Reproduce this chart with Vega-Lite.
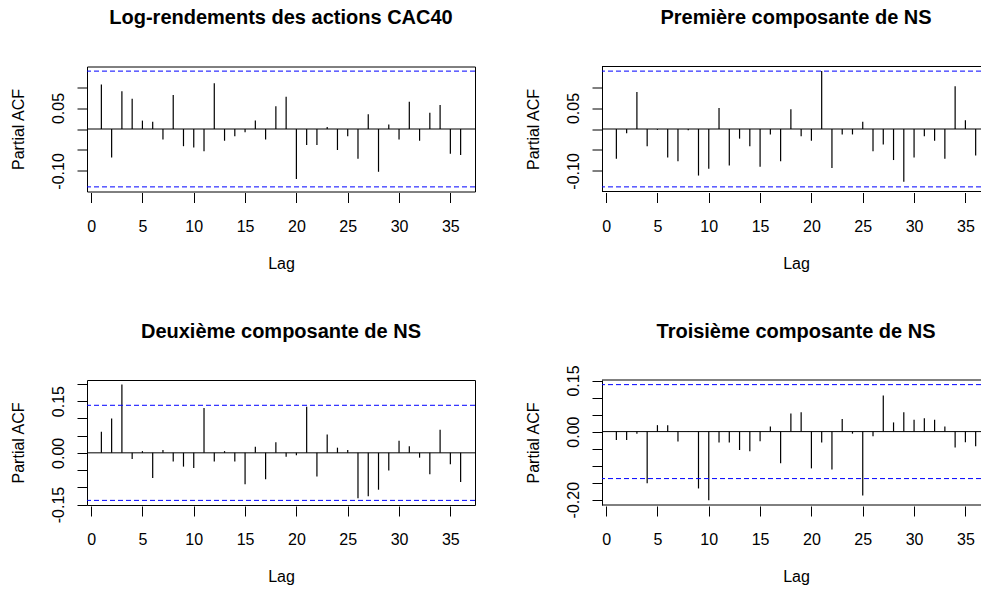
{
  "$schema": "https://vega.github.io/schema/vega-lite/v6.json",
  "padding": {"left": 9, "top": 7.5, "right": 0, "bottom": 0},
  "background": "white",
  "datasets": {
    "cac40": [
      {"lag": 1, "pacf": 0.106}, {"lag": 2, "pacf": -0.068}, {"lag": 3, "pacf": 0.090}, {"lag": 4, "pacf": 0.072},
      {"lag": 5, "pacf": 0.020}, {"lag": 6, "pacf": 0.017}, {"lag": 7, "pacf": -0.025}, {"lag": 8, "pacf": 0.081},
      {"lag": 9, "pacf": -0.041}, {"lag": 10, "pacf": -0.044}, {"lag": 11, "pacf": -0.053}, {"lag": 12, "pacf": 0.109},
      {"lag": 13, "pacf": -0.028}, {"lag": 14, "pacf": -0.017}, {"lag": 15, "pacf": -0.008}, {"lag": 16, "pacf": 0.020},
      {"lag": 17, "pacf": -0.025}, {"lag": 18, "pacf": 0.054}, {"lag": 19, "pacf": 0.077}, {"lag": 20, "pacf": -0.119},
      {"lag": 21, "pacf": -0.038}, {"lag": 22, "pacf": -0.038}, {"lag": 23, "pacf": 0.005}, {"lag": 24, "pacf": -0.050},
      {"lag": 25, "pacf": -0.017}, {"lag": 26, "pacf": -0.071}, {"lag": 27, "pacf": 0.035}, {"lag": 28, "pacf": -0.102},
      {"lag": 29, "pacf": 0.011}, {"lag": 30, "pacf": -0.025}, {"lag": 31, "pacf": 0.065}, {"lag": 32, "pacf": -0.028},
      {"lag": 33, "pacf": 0.039}, {"lag": 34, "pacf": 0.057}, {"lag": 35, "pacf": -0.059}, {"lag": 36, "pacf": -0.062}
    ],
    "ns1": [
      {"lag": 1, "pacf": -0.071}, {"lag": 2, "pacf": -0.010}, {"lag": 3, "pacf": 0.088}, {"lag": 4, "pacf": -0.041},
      {"lag": 5, "pacf": -0.002}, {"lag": 6, "pacf": -0.068}, {"lag": 7, "pacf": -0.077}, {"lag": 8, "pacf": -0.003},
      {"lag": 9, "pacf": -0.111}, {"lag": 10, "pacf": -0.095}, {"lag": 11, "pacf": 0.050}, {"lag": 12, "pacf": -0.087},
      {"lag": 13, "pacf": -0.023}, {"lag": 14, "pacf": -0.041}, {"lag": 15, "pacf": -0.090}, {"lag": 16, "pacf": -0.013},
      {"lag": 17, "pacf": -0.077}, {"lag": 18, "pacf": 0.047}, {"lag": 19, "pacf": -0.017}, {"lag": 20, "pacf": -0.028},
      {"lag": 21, "pacf": 0.138}, {"lag": 22, "pacf": -0.093}, {"lag": 23, "pacf": -0.013}, {"lag": 24, "pacf": -0.013},
      {"lag": 25, "pacf": 0.017}, {"lag": 26, "pacf": -0.053}, {"lag": 27, "pacf": -0.037}, {"lag": 28, "pacf": -0.074},
      {"lag": 29, "pacf": -0.126}, {"lag": 30, "pacf": -0.068}, {"lag": 31, "pacf": -0.017}, {"lag": 32, "pacf": -0.028},
      {"lag": 33, "pacf": -0.071}, {"lag": 34, "pacf": 0.102}, {"lag": 35, "pacf": 0.021}, {"lag": 36, "pacf": -0.063}
    ],
    "ns2": [
      {"lag": 1, "pacf": 0.061}, {"lag": 2, "pacf": 0.100}, {"lag": 3, "pacf": 0.198}, {"lag": 4, "pacf": -0.018},
      {"lag": 5, "pacf": 0.005}, {"lag": 6, "pacf": -0.073}, {"lag": 7, "pacf": 0.008}, {"lag": 8, "pacf": -0.025},
      {"lag": 9, "pacf": -0.040}, {"lag": 10, "pacf": -0.044}, {"lag": 11, "pacf": 0.130}, {"lag": 12, "pacf": -0.025},
      {"lag": 13, "pacf": 0.005}, {"lag": 14, "pacf": -0.025}, {"lag": 15, "pacf": -0.091}, {"lag": 16, "pacf": 0.018},
      {"lag": 17, "pacf": -0.077}, {"lag": 18, "pacf": 0.031}, {"lag": 19, "pacf": -0.011}, {"lag": 20, "pacf": -0.007},
      {"lag": 21, "pacf": 0.134}, {"lag": 22, "pacf": -0.069}, {"lag": 23, "pacf": 0.053}, {"lag": 24, "pacf": 0.015},
      {"lag": 25, "pacf": 0.008}, {"lag": 26, "pacf": -0.132}, {"lag": 27, "pacf": -0.126}, {"lag": 28, "pacf": -0.107},
      {"lag": 29, "pacf": -0.051}, {"lag": 30, "pacf": 0.035}, {"lag": 31, "pacf": 0.019}, {"lag": 32, "pacf": -0.014},
      {"lag": 33, "pacf": -0.062}, {"lag": 34, "pacf": 0.067}, {"lag": 35, "pacf": -0.033}, {"lag": 36, "pacf": -0.085}
    ],
    "ns3": [
      {"lag": 1, "pacf": -0.025}, {"lag": 2, "pacf": -0.025}, {"lag": 3, "pacf": -0.006}, {"lag": 4, "pacf": -0.152},
      {"lag": 5, "pacf": 0.019}, {"lag": 6, "pacf": 0.019}, {"lag": 7, "pacf": -0.029}, {"lag": 8, "pacf": 0.001},
      {"lag": 9, "pacf": -0.167}, {"lag": 10, "pacf": -0.202}, {"lag": 11, "pacf": -0.032}, {"lag": 12, "pacf": -0.032},
      {"lag": 13, "pacf": -0.054}, {"lag": 14, "pacf": -0.058}, {"lag": 15, "pacf": -0.028}, {"lag": 16, "pacf": 0.015},
      {"lag": 17, "pacf": -0.093}, {"lag": 18, "pacf": 0.053}, {"lag": 19, "pacf": 0.057}, {"lag": 20, "pacf": -0.108},
      {"lag": 21, "pacf": -0.032}, {"lag": 22, "pacf": -0.111}, {"lag": 23, "pacf": 0.037}, {"lag": 24, "pacf": -0.006},
      {"lag": 25, "pacf": -0.188}, {"lag": 26, "pacf": -0.014}, {"lag": 27, "pacf": 0.106}, {"lag": 28, "pacf": 0.027},
      {"lag": 29, "pacf": 0.057}, {"lag": 30, "pacf": 0.035}, {"lag": 31, "pacf": 0.039}, {"lag": 32, "pacf": 0.035},
      {"lag": 33, "pacf": 0.015}, {"lag": 34, "pacf": -0.047}, {"lag": 35, "pacf": -0.031}, {"lag": 36, "pacf": -0.043}
    ],
    "ic": [{"borne": 0.138}, {"borne": -0.138}]
  },
  "columns": 2,
  "bounds": "flush",
  "spacing": {"row": 188.5, "column": 127},
  "concat": [
    {
      "width": 388,
      "height": 125,
      "title": {"text": "Log-rendements des actions CAC40", "frame": "group"},
      "layer": [
        {
          "data": {"name": "cac40"},
          "mark": {"type": "rule", "color": "black", "strokeWidth": 1.2},
          "encoding": {
            "x": {"field": "lag", "type": "quantitative", "title": "Lag",
                  "scale": {"domain": [-0.4, 37.4], "nice": false, "zero": false},
                  "axis": {"format": "d", "values": [0, 5, 10, 15, 20, 25, 30, 35]}},
            "y": {"field": "pacf", "type": "quantitative", "title": "Partial ACF",
                  "scale": {"domain": [-0.149, 0.149], "nice": false, "zero": false},
                  "axis": {"values": [-0.1, -0.05, 0, 0.05, 0.1],
                           "labelExpr": "abs(datum.value - 0.05) < 1e-6 ? '0.05' : abs(datum.value + 0.1) < 1e-6 ? '-0.10' : ''"}},
            "y2": {"datum": 0}
          }
        },
        {"data": {"values": [{}]}, "mark": {"type": "rule", "color": "black"}, "encoding": {"y": {"datum": 0}}},
        {"data": {"name": "ic"}, "mark": {"type": "rule", "color": "blue", "strokeDash": [5, 3]}, "encoding": {"y": {"field": "borne", "type": "quantitative"}}}
      ]
    },
    {
      "width": 379,
      "height": 125,
      "view": {"stroke": null},
      "title": {"text": "Première composante de NS", "frame": "group", "dx": 4.5},
      "layer": [
        {
          "data": {"name": "ns1"},
          "mark": {"type": "rule", "color": "black", "strokeWidth": 1.2},
          "encoding": {
            "x": {"field": "lag", "type": "quantitative", "title": "Lag",
                  "scale": {"domain": [-0.4, 36.52], "nice": false, "zero": false},
                  "axis": {"titleX": 194, "format": "d", "values": [0, 5, 10, 15, 20, 25, 30, 35]}},
            "y": {"field": "pacf", "type": "quantitative", "title": "Partial ACF",
                  "scale": {"domain": [-0.149, 0.149], "nice": false, "zero": false},
                  "axis": {"domain": true, "values": [-0.1, -0.05, 0, 0.05, 0.1],
                           "labelExpr": "abs(datum.value - 0.05) < 1e-6 ? '0.05' : abs(datum.value + 0.1) < 1e-6 ? '-0.10' : ''"}},
            "y2": {"datum": 0}
          }
        },
        {"data": {"values": [{}]}, "mark": {"type": "rule", "color": "black"}, "encoding": {"y": {"datum": 0}}},
        {"data": {"name": "ic"}, "mark": {"type": "rule", "color": "blue", "strokeDash": [5, 3]}, "encoding": {"y": {"field": "borne", "type": "quantitative"}}},
        {"data": {"values": [{"bord": 0.149}, {"bord": -0.149}]}, "mark": {"type": "rule", "color": "black"}, "encoding": {"y": {"field": "bord", "type": "quantitative"}}}
      ]
    },
    {
      "width": 388,
      "height": 125,
      "title": {"text": "Deuxième composante de NS", "frame": "group"},
      "layer": [
        {
          "data": {"name": "ns2"},
          "mark": {"type": "rule", "color": "black", "strokeWidth": 1.2},
          "encoding": {
            "x": {"field": "lag", "type": "quantitative", "title": "Lag",
                  "scale": {"domain": [-0.4, 37.4], "nice": false, "zero": false},
                  "axis": {"format": "d", "values": [0, 5, 10, 15, 20, 25, 30, 35]}},
            "y": {"field": "pacf", "type": "quantitative", "title": "Partial ACF",
                  "scale": {"domain": [-0.1514, 0.2114], "nice": false, "zero": false},
                  "axis": {"values": [-0.15, -0.1, -0.05, 0, 0.05, 0.1, 0.15, 0.2],
                           "labelExpr": "abs(datum.value - 0.15) < 1e-6 ? '0.15' : abs(datum.value) < 1e-6 ? '0.00' : abs(datum.value + 0.15) < 1e-6 ? '-0.15' : ''"}},
            "y2": {"datum": 0}
          }
        },
        {"data": {"values": [{}]}, "mark": {"type": "rule", "color": "black"}, "encoding": {"y": {"datum": 0}}},
        {"data": {"name": "ic"}, "mark": {"type": "rule", "color": "blue", "strokeDash": [5, 3]}, "encoding": {"y": {"field": "borne", "type": "quantitative"}}}
      ]
    },
    {
      "width": 379,
      "height": 125,
      "view": {"stroke": null},
      "title": {"text": "Troisième composante de NS", "frame": "group", "dx": 4.5, "dy": 16},
      "layer": [
        {
          "data": {"name": "ns3"},
          "mark": {"type": "rule", "color": "black", "strokeWidth": 1.2},
          "encoding": {
            "x": {"field": "lag", "type": "quantitative", "title": "Lag",
                  "scale": {"domain": [-0.4, 36.52], "nice": false, "zero": false},
                  "axis": {"titleX": 194, "format": "d", "values": [0, 5, 10, 15, 20, 25, 30, 35]}},
            "y": {"field": "pacf", "type": "quantitative", "title": "Partial ACF",
                  "scale": {"domain": [-0.2156, 0.1516], "nice": false, "zero": false},
                  "axis": {"domain": true, "values": [-0.2, -0.15, -0.1, -0.05, 0, 0.05, 0.1, 0.15],
                           "labelExpr": "abs(datum.value - 0.15) < 1e-6 ? '0.15' : abs(datum.value) < 1e-6 ? '0.00' : abs(datum.value + 0.2) < 1e-6 ? '-0.20' : ''"}},
            "y2": {"datum": 0}
          }
        },
        {"data": {"values": [{}]}, "mark": {"type": "rule", "color": "black"}, "encoding": {"y": {"datum": 0}}},
        {"data": {"name": "ic"}, "mark": {"type": "rule", "color": "blue", "strokeDash": [5, 3]}, "encoding": {"y": {"field": "borne", "type": "quantitative"}}},
        {"data": {"values": [{"bord": 0.1516}, {"bord": -0.2156}]}, "mark": {"type": "rule", "color": "black"}, "encoding": {"y": {"field": "bord", "type": "quantitative"}}}
      ]
    }
  ],
  "config": {
    "font": "Liberation Sans",
    "view": {"stroke": "black", "strokeWidth": 1},
    "title": {"fontSize": 20, "fontWeight": "bold", "color": "black", "anchor": "middle", "frame": "group", "baseline": "alphabetic", "offset": 38.5},
    "axis": {
      "domain": false,
      "domainColor": "black",
      "grid": false,
      "ticks": true,
      "tickColor": "black",
      "tickSize": 10,
      "tickCount": 100,
      "labelColor": "black",
      "labelFontSize": 16,
      "labelFont": "Liberation Sans",
      "labelOverlap": false,
      "labelFlush": false,
      "labelBound": false,
      "titleColor": "black",
      "titleFont": "Liberation Sans",
      "titleFontSize": 16,
      "titleFontWeight": "normal"
    },
    "axisX": {"offset": 1, "labelPadding": 15.5, "titlePadding": 21},
    "axisY": {"labelAngle": 270, "labelAlign": "center", "labelBaseline": "alphabetic", "labelPadding": 14, "titlePadding": 24}
  }
}
